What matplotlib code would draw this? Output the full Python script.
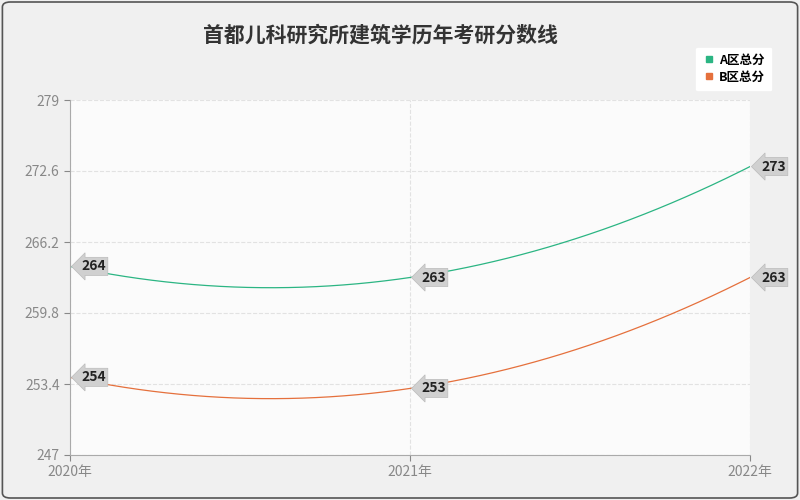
import numpy as np
import matplotlib.pyplot as plt
from matplotlib.patches import FancyBboxPatch

plt.rcParams['font.family'] = ['Noto Sans CJK SC', 'DejaVu Sans']

years = ['2020年', '2021年', '2022年']
a_scores = [264, 263, 273]
b_scores = [254, 253, 263]
yticks = [247, 253.4, 259.8, 266.2, 272.6, 279]

fig = plt.figure(figsize=(8, 5), dpi=100, facecolor='#f0f0f0')
border = FancyBboxPatch((0.003, 0.004), 0.994, 0.992, boxstyle='round,pad=0,rounding_size=0.01',
                        transform=fig.transFigure, fc='#f0f0f0', ec='#555555', lw=1.2, zorder=-10)
fig.patches.append(border)
ax = fig.add_axes([0.0875, 0.09, 0.85, 0.71])
ax.set_facecolor('#fbfbfb')

x = np.arange(len(years))
xs = np.linspace(0, 2, 200)
for vals, color, name in [(a_scores, '#2bb583', 'A区总分'), (b_scores, '#e5703c', 'B区总分')]:
    coef = np.polyfit(x, vals, 2)
    ax.plot(xs, np.polyval(coef, xs), color=color, lw=0.9)
    ax.plot([], [], 's', color=color, ms=4, label=name)
    for xi, v in zip(x, vals):
        ax.annotate(str(v), (xi, v), xytext=(8, 0), textcoords='offset points', va='center', ha='left',
                    fontsize=10, fontweight='bold', color='#222222', annotation_clip=False,
                    bbox=dict(boxstyle='larrow,pad=0.15', fc='#d0d0d0', ec='#bbbbbb', lw=0.5))

ax.set_xlim(0, 2)
ax.set_ylim(247, 279)
ax.set_xticks(x)
ax.set_xticklabels(years)
ax.set_yticks(yticks)
ax.set_yticklabels(['247', '253.4', '259.8', '266.2', '272.6', '279'])
ax.tick_params(colors='#888888', labelsize=10, length=4)
ax.grid(True, ls='--', color='#e2e2e2', lw=0.8)
for s in ['top', 'right']:
    ax.spines[s].set_visible(False)
for s in ['left', 'bottom']:
    ax.spines[s].set_color('#aaaaaa')

fig.text(0.475, 0.93, '首都儿科研究所建筑学历年考研分数线', ha='center', va='center', fontsize=15,
         fontweight='bold', color='#333333')
leg = fig.legend(loc='upper right', bbox_to_anchor=(0.97, 0.915), fontsize=9, handletextpad=0.3,
                 handlelength=1, frameon=True, framealpha=1, edgecolor='white', borderpad=0.4, labelspacing=0.3,
                 prop={'weight': 'bold', 'size': 9})
leg.get_frame().set_boxstyle('round,pad=0.1')

fig.savefig('out.png', dpi=100, facecolor=fig.get_facecolor())
